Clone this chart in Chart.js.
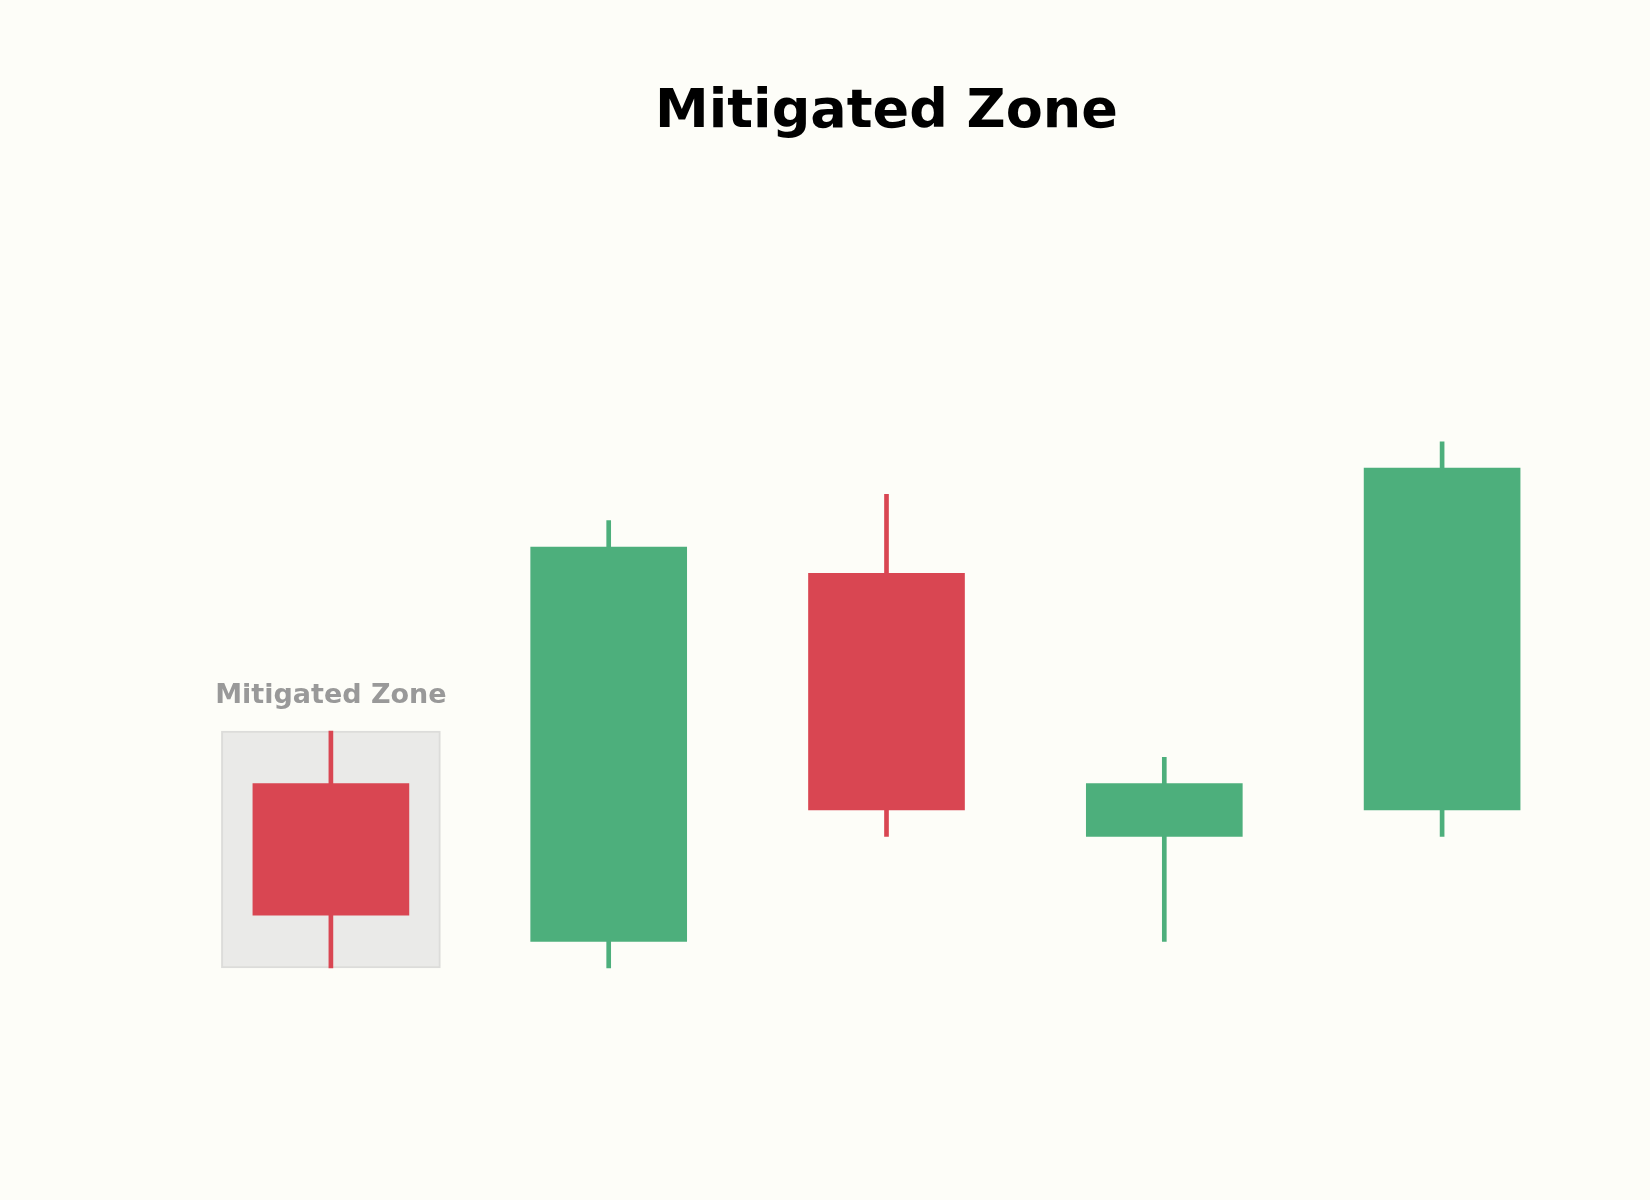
<!DOCTYPE html>
<html>
<head>
<meta charset="utf-8">
<title>Mitigated Zone</title>
<script src="https://cdn.jsdelivr.net/npm/chart.js@4.4.1/dist/chart.umd.min.js"></script>
<style>
  html, body { margin: 0; padding: 0; background: #fdfdf8; }
  canvas { display: block; }
</style>
</head>
<body>
<canvas id="grafico" width="1650" height="1200"></canvas>
<script>
const velas = ["1", "2", "3", "4", "5"];
const abertura = [107, 101, 115, 105, 106];
const maxima   = [109, 117, 118, 108, 120];
const minima   = [100, 100, 105, 101, 105];
const fecho    = [102, 116, 106, 107, 119];

// zona mitigada = primeira vela (mínima até máxima)
const zonaIndice = 0;
const zonaTexto = "Mitigated Zone";

const VERDE = "#4daf7c";
const VERMELHO = "#d94652";
const cores = abertura.map((o, i) => (fecho[i] >= o ? VERDE : VERMELHO));

const zona = velas.map((_, i) => (i === zonaIndice ? [minima[i], maxima[i]] : null));

const textos = {
  id: "textos",
  afterDraw(chart) {
    const { ctx, chartArea, scales } = chart;
    ctx.save();
    ctx.textAlign = "center";
    ctx.textBaseline = "alphabetic";

    ctx.fillStyle = "#000";
    ctx.font = "bold 54px 'DejaVu Sans'";
    ctx.fillText("Mitigated Zone", (chartArea.left + chartArea.right) / 2, 127);

    ctx.fillStyle = "#999999";
    ctx.font = "bold 27px 'DejaVu Sans'";
    const x = scales.x.getPixelForValue(zonaIndice);
    const y = scales.y.getPixelForValue(maxima[zonaIndice] + 1) - 2;
    ctx.fillText(zonaTexto, x, y);
    ctx.restore();
  },
};

new Chart(document.getElementById("grafico").getContext("2d"), {
  type: "bar",
  data: {
    labels: velas,
    datasets: [
      {
        label: "Zona",
        data: zona,
        backgroundColor: "#eaeae8",
        borderColor: "#dcdcda",
        borderWidth: 2,
        borderSkipped: false,
        barThickness: 219,
        order: 3,
      },
      {
        label: "Pavio",
        data: minima.map((l, i) => [l, maxima[i]]),
        backgroundColor: cores,
        borderWidth: 0,
        barThickness: 4,
        order: 2,
      },
      {
        label: "Corpo",
        data: abertura.map((o, i) => [o, fecho[i]]),
        backgroundColor: cores,
        borderWidth: 0,
        barThickness: 156,
        order: 1,
      },
    ],
  },
  options: {
    responsive: false,
    devicePixelRatio: 1,
    animation: false,
    grouped: false,
    layout: { padding: { top: 284, bottom: 127, left: 192, right: 69 } },
    scales: {
      x: { display: false, offset: true, grid: { display: false } },
      y: { display: false, min: 96, max: 126, grid: { display: false } },
    },
    plugins: {
      legend: { display: false },
      tooltip: {
        backgroundColor: "#1e293b",
        padding: 12,
        callbacks: {
          label: (ctx) => {
            const i = ctx.dataIndex;
            return `O ${abertura[i]}  H ${maxima[i]}  L ${minima[i]}  C ${fecho[i]}`;
          },
        },
      },
    },
  },
  plugins: [textos],
});
</script>
</body>
</html>
